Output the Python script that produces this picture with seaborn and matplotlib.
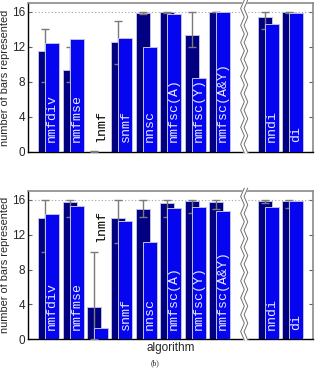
import numpy as np
import pandas as pd
import matplotlib
matplotlib.use("Agg")
import matplotlib.pyplot as plt
import matplotlib.transforms as mtransforms
import seaborn as sns

# ---------------- data ----------------
algorithms = ["nmfdiv", "nmfmse", "lnmf", "snmf", "nnsc",
              "nmfsc(A)", "nmfsc(Y)", "nmfsc(A&Y)", "nndi", "di"]
positions = [0, 1, 2, 3, 4, 5, 6, 7, 9, 10]

top_dark = [11.5, 9.4, 0.05, 12.6, 15.9, 16.0, 13.4, 16.0, 15.35, 16.0]
top_blue = [12.4, 12.9, 0.0, 13.0, 12.0, 15.7, 8.4, 16.0, 14.6, 15.85]
top_err_lo = [8.0, 8.0, 0.0, 10.0, 15.8, 15.9, 12.0, 15.95, 14.0, 15.9]
top_err_hi = [14.0, 12.0, 0.1, 15.0, 16.0, 16.0, 16.0, 16.0, 16.0, 16.0]

bot_dark = [13.87, 15.73, 3.65, 13.9, 14.9, 15.6, 15.9, 15.7, 15.9, 15.9]
bot_blue = [14.36, 15.3, 1.33, 13.6, 11.2, 15.0, 15.2, 14.7, 15.2, 15.9]
bot_err_lo = [10.0, 14.0, 0.0, 11.0, 14.0, 14.0, 14.5, 14.9, 15.6, 15.0]
bot_err_hi = [16.0, 16.0, 10.0, 16.0, 16.0, 16.0, 16.0, 16.0, 16.0, 16.0]

yticks = [0, 4, 8, 12, 16]

# ---------------- style ----------------
sns.set_style("white")
plt.rcParams['font.family'] = ['Liberation Sans', 'DejaVu Sans']

DARK = "#000080"
BLUE = "#0505f0"
EDGE = "#c0c0e4"
ERRC = "#7a7a7a"
DARK_W = 0.574
OFF = 0.287
BREAK_X = 8.44

fig = plt.figure(figsize=(3.15, 3.69), dpi=100)
ax1 = fig.add_axes([0.0889, 0.5881, 0.9048, 0.4038])
ax2 = fig.add_axes([0.0889, 0.0805, 0.9048, 0.4019])


def draw(ax, dark, blue, lo, hi, label_y, show_xlabel):
    df_d = pd.DataFrame({"x": [p + DARK_W / 2 for p in positions], "y": dark})
    df_b = pd.DataFrame({"x": [p + OFF + DARK_W / 2 for p in positions], "y": blue})
    sns.barplot(data=df_d, x="x", y="y", native_scale=True, width=DARK_W,
                color=DARK, saturation=1, edgecolor=EDGE, linewidth=0.7,
                errorbar=None, ax=ax)
    lo = np.array(lo); hi = np.array(hi)
    ex = np.array(positions) + OFF
    ax.errorbar(ex, (lo + hi) / 2, yerr=(hi - lo) / 2, fmt="none",
                ecolor=ERRC, elinewidth=1.0, capsize=3, capthick=1.0, zorder=3)
    sns.barplot(data=df_b, x="x", y="y", native_scale=True, width=DARK_W,
                color=BLUE, saturation=1, edgecolor=EDGE, linewidth=0.7,
                errorbar=None, ax=ax)
    for p in ax.patches[len(positions):]:
        p.set_zorder(4)
    for p in ax.patches[:len(positions)]:
        p.set_zorder(2)

    ax.axhline(16, color="#a0a0a0", linestyle=(0, (1, 2)), linewidth=0.8, zorder=1)

    for i, (pos, name) in enumerate(zip(positions, algorithms)):
        ly = label_y[i]
        col = "black" if name == "lnmf" else "#e8e8ff"
        ax.text(pos + OFF + DARK_W / 2, ly, name, rotation=90, ha="center",
                va="bottom", family=["Liberation Mono", "DejaVu Sans Mono"],
                fontsize=9.5, color=col, zorder=6)

    ax.set_xlim(-0.42, 11.26)
    ax.set_ylim(0, 17)
    ax.set_yticks(yticks)
    ax.set_yticklabels([str(t) for t in yticks], fontsize=8.5)
    ax.set_xticks([])
    ax.tick_params(axis="y", direction="in", length=3, pad=2, right=True, left=True,
                   color="#606060")
    for s in ["left", "bottom"]:
        ax.spines[s].set_color("black")
        ax.spines[s].set_linewidth(1.0)
    for s in ["top", "right"]:
        ax.spines[s].set_color("#8a8a8a")
        ax.spines[s].set_linewidth(1.2)
    ax.set_ylabel("number of bars represented", fontsize=7.9)
    ax.yaxis.set_label_coords(-0.062, 0.5)
    if show_xlabel:
        ax.set_xlabel("algorithm", fontsize=8.5, labelpad=2)
    else:
        ax.set_xlabel("")

    # axis break
    trans = mtransforms.blended_transform_factory(ax.transData, ax.transAxes)
    ys = np.linspace(-0.005, 1.02, 19)
    z = np.array([(-1) ** k for k in range(len(ys))]) * 0.075
    xl = BREAK_X - 0.07 + z
    xr = BREAK_X + 0.07 + z
    poly_x = np.concatenate([xl, xr[::-1]])
    poly_y = np.concatenate([ys, ys[::-1]])
    ax.fill(poly_x, poly_y, color="white", transform=trans, zorder=10, clip_on=False)
    ax.plot(xl, ys, color="#707070", lw=0.7, transform=trans, zorder=11, clip_on=False)
    ax.plot(xr, ys, color="#707070", lw=0.7, transform=trans, zorder=11, clip_on=False)


top_label_y = [1.1] * 10
bot_label_y = [1.1, 1.1, 11.1, 1.1, 1.1, 1.1, 1.1, 1.1, 1.1, 1.1]

draw(ax1, top_dark, top_blue, top_err_lo, top_err_hi, top_label_y, False)
draw(ax2, bot_dark, bot_blue, bot_err_lo, bot_err_hi, bot_label_y, True)

fig.text(155 / 315, 1 - 363 / 369, "(b)", family=["Liberation Serif", "DejaVu Serif"],
         fontsize=5.5, ha="center", va="center")

fig.savefig("out.png", dpi=100)
